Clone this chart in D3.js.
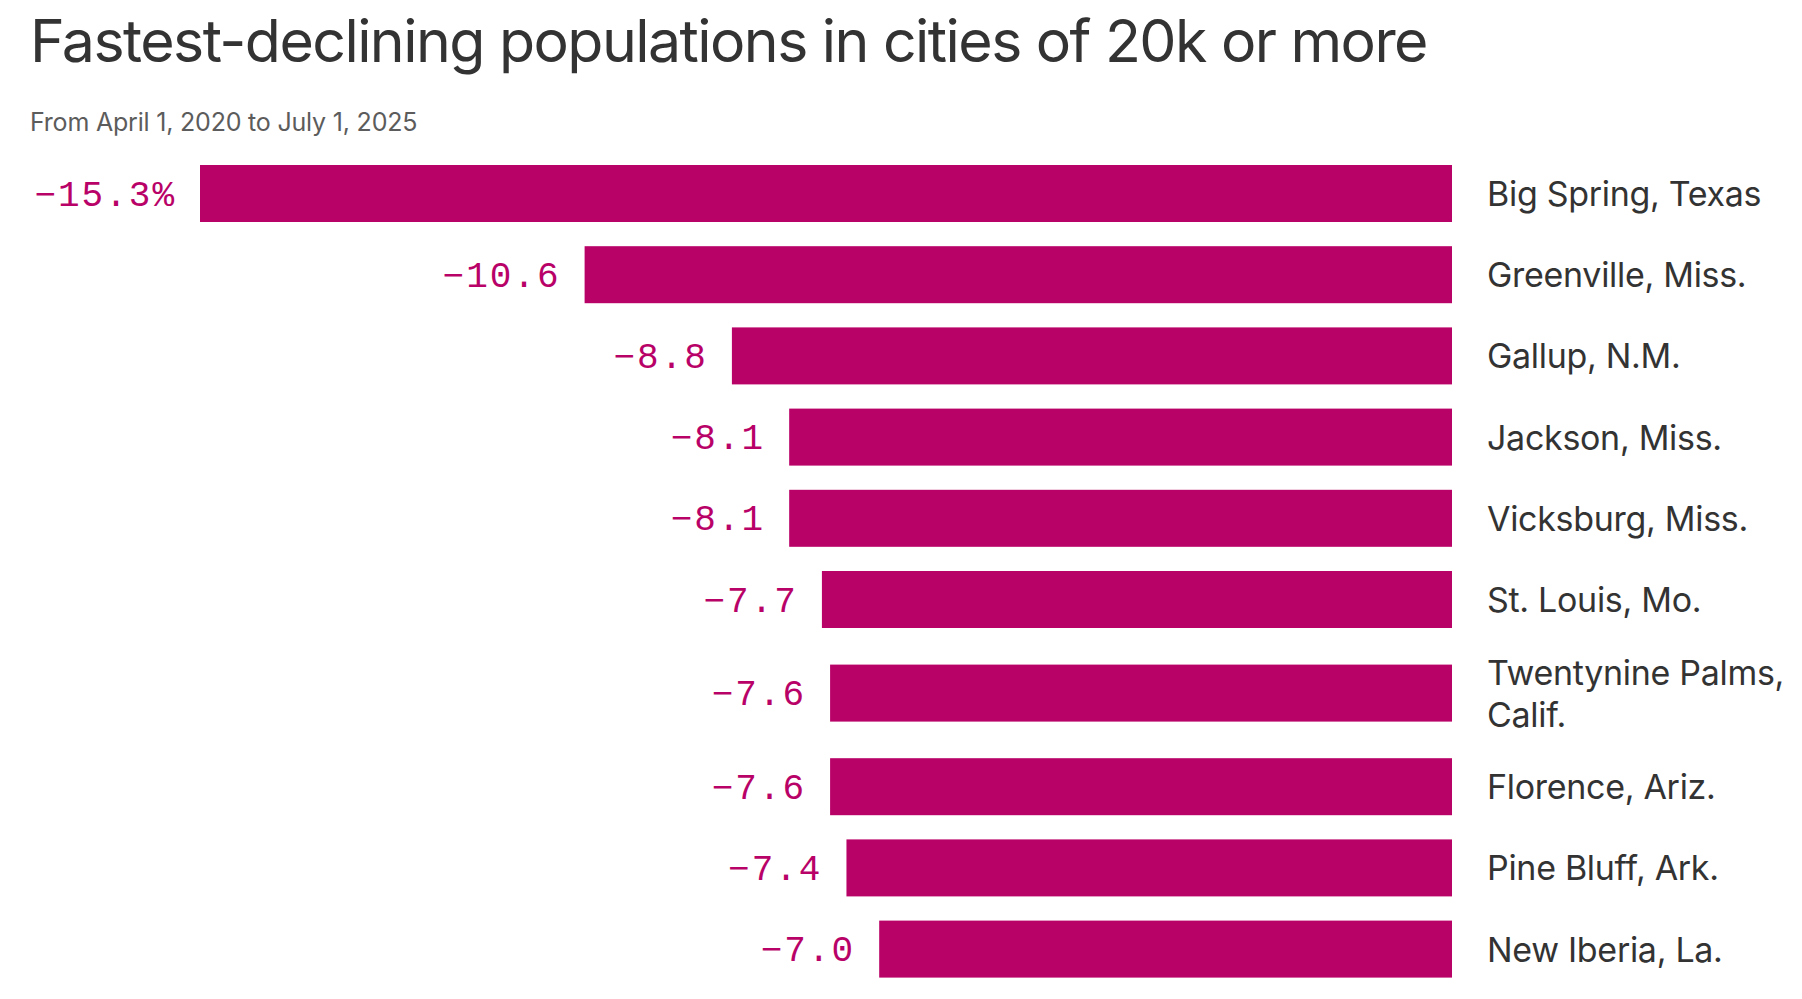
<!DOCTYPE html>
<html>
<head>
<meta charset="utf-8">
<script src="https://cdn.jsdelivr.net/npm/d3@7"></script>
<style>
  body { margin: 0; background: #fff; }
  svg { display: block; }
</style>
</head>
<body>
<div id="chart"></div>
<script>
// Data
const cities = [
  "Big Spring, Texas",
  "Greenville, Miss.",
  "Gallup, N.M.",
  "Jackson, Miss.",
  "Vicksburg, Miss.",
  "St. Louis, Mo.",
  "Twentynine Palms, Calif.",
  "Florence, Ariz.",
  "Pine Bluff, Ark.",
  "New Iberia, La."
];
const changes = [-15.3, -10.6, -8.8, -8.1, -8.1, -7.7, -7.6, -7.6, -7.4, -7.0];

const titleText = "Fastest-declining populations in cities of 20k or more";
const subtitleText = "From April 1, 2020 to July 1, 2025";

const width = 1802, height = 999;
const barColor = "#b90268";
const textColor = "#333333";
const rowStep = 81.2, barH = 57, lineH = 42, labelPad = 22;
const labelX = 1487, labelMaxW = 320;

const svg = d3.select("#chart").append("svg")
  .attr("width", width)
  .attr("height", height);

svg.append("text")
  .attr("x", 30).attr("y", 62)
  .attr("fill", textColor)
  .style("font-family", "Inter, 'Noto Sans', sans-serif")
  .style("font-size", "59px")
  .style("letter-spacing", "-1.55px")
  .text(titleText);

svg.append("text")
  .attr("x", 30).attr("y", 131)
  .attr("fill", "#5c5c5c")
  .style("font-family", "Inter, 'Noto Sans', sans-serif")
  .style("font-size", "25px")
  .style("letter-spacing", "-0.2px")
  .text(subtitleText);

const x = d3.scaleLinear()
  .domain([d3.min(changes), 0])
  .range([200, 1452]);

// city labels first, so wrapped rows can be given more room
const labels = svg.append("g").selectAll("text")
  .data(cities)
  .join("text")
  .attr("x", labelX)
  .attr("fill", textColor)
  .style("font-family", "Inter, 'Noto Sans', sans-serif")
  .style("font-size", "34px")
  .style("letter-spacing", "-0.3px");

const lineCounts = [];
labels.each(function(d, i) {
  const t = d3.select(this);
  const words = d.split(" ");
  let line = [], lines = [];
  let tspan = t.append("tspan").attr("x", labelX);
  words.forEach(w => {
    line.push(w);
    tspan.text(line.join(" "));
    if (this.getComputedTextLength() > labelMaxW && line.length > 1) {
      line.pop();
      tspan.text(line.join(" "));
      lines.push(tspan);
      line = [w];
      tspan = t.append("tspan").attr("x", labelX).text(w);
    }
  });
  lines.push(tspan);
  lineCounts[i] = lines.length;
});

// row centres from row heights
const rowHeights = lineCounts.map(n => Math.max(rowStep, n * lineH + labelPad));
let acc = 152.9;
const centres = rowHeights.map(h => { const c = acc + h / 2; acc += h; return c; });
const y = d3.scaleOrdinal().domain(cities).range(centres);

labels.each(function(d, i) {
  const n = lineCounts[i];
  d3.select(this).selectAll("tspan")
    .attr("y", (_, j) => y(d) - (n - 1) * lineH / 2 + j * lineH + 12.4);
});

svg.append("g").selectAll("rect")
  .data(cities)
  .join("rect")
  .attr("x", (d, i) => x(changes[i]))
  .attr("y", d => y(d) - barH / 2)
  .attr("width", (d, i) => x(0) - x(changes[i]))
  .attr("height", barH)
  .attr("fill", barColor);

svg.append("g").selectAll("text")
  .data(cities)
  .join("text")
  .attr("x", (d, i) => x(changes[i]) - 24)
  .attr("y", d => y(d) + 12)
  .attr("text-anchor", "end")
  .attr("fill", barColor)
  .style("font-family", "'Liberation Mono', 'DejaVu Sans Mono', monospace")
  .style("font-size", "36px")
  .style("letter-spacing", "2px")
  .text((d, i) => "\u2212" + Math.abs(changes[i]).toFixed(1) + (i === 0 ? "%" : ""));
</script>
</body>
</html>
